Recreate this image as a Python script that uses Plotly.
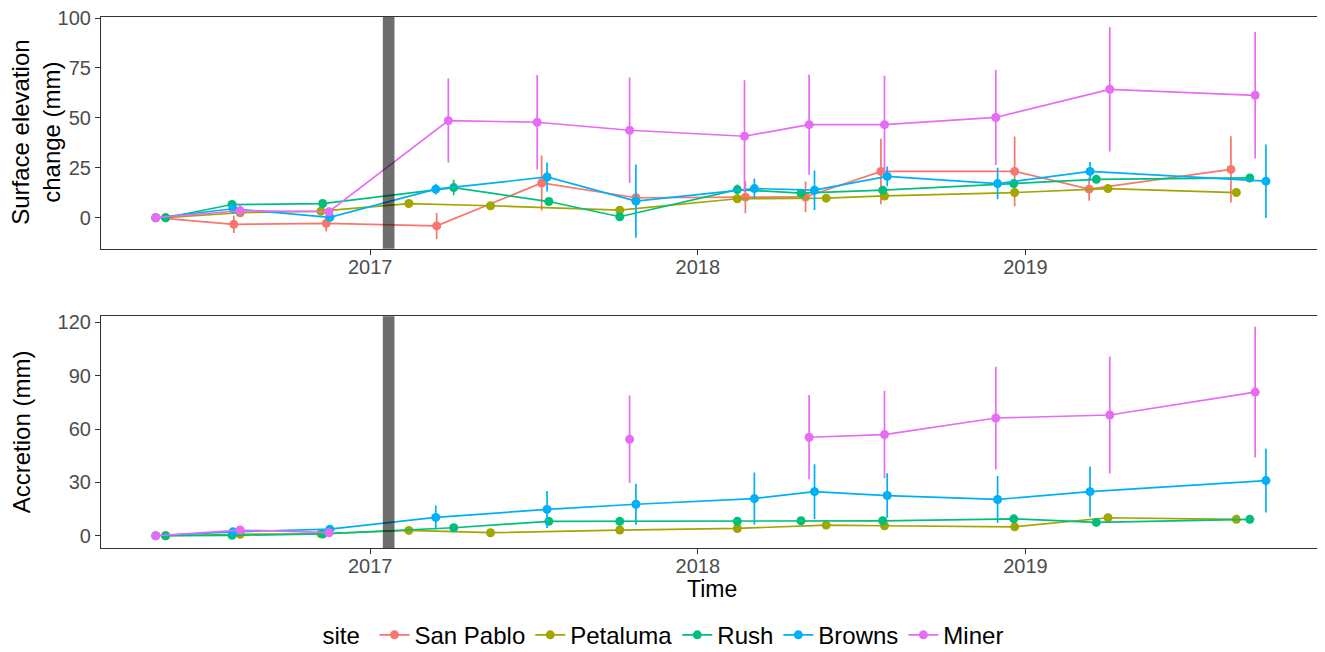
import plotly.graph_objects as go

sites = ["San Pablo", "Petaluma", "Rush", "Browns", "Miner"]
colors = ["#F8766D", "#A3A500", "#00BF7D", "#00B0F6", "#E76BF3"]

dates_san_pablo = ["2016-05-07", "2016-08-02", "2016-11-13", "2017-03-16", "2017-07-11", "2017-10-24",
                   "2018-02-23", "2018-05-01", "2018-07-24", "2018-12-20", "2019-03-13", "2019-08-18"]
dates_petaluma = ["2016-05-18", "2016-08-09", "2016-11-07", "2017-02-13", "2017-05-15", "2017-10-06",
                  "2018-02-14", "2018-05-24", "2018-07-28", "2018-12-20", "2019-04-03", "2019-08-24"]
dates_rush = ["2016-05-18", "2016-07-31", "2016-11-09", "2017-04-04", "2017-07-19", "2017-10-06",
              "2018-02-14", "2018-04-26", "2018-07-26", "2018-12-19", "2019-03-21", "2019-09-08"]
dates_browns = ["2016-05-07", "2016-08-01", "2016-11-17", "2017-03-15", "2017-07-17", "2017-10-24",
                "2018-03-05", "2018-05-11", "2018-07-31", "2018-12-01", "2019-03-14", "2019-09-26"]
dates_miner = ["2016-05-07", "2016-08-09", "2016-11-16", "2017-03-29", "2017-07-06", "2017-10-17",
               "2018-02-22", "2018-05-05", "2018-07-28", "2018-11-29", "2019-04-05", "2019-09-14"]

# Surface elevation change (mm) and error
sec_san_pablo = [0, -3.3, -2.8, -4.1, 17.4, 10.0, 10.3, 10.4, 23.2, 23.2, 14.3, 24.2]
sec_petaluma = [0, 2.5, 3.3, 7.1, 6.0, 3.8, 9.5, 9.8, 10.9, 12.6, 14.6, 12.6]
sec_rush = [0, 6.6, 7.1, 15.1, 8.1, 0.5, 14.1, 12.3, 13.8, 17.1, 19.2, 19.9]
sec_browns = [0, 4.5, 0.2, 14.3, 20.4, 8.3, 14.6, 13.8, 20.7, 17.1, 23.2, 18.3]
sec_miner = [0, 3.5, 3.0, 48.6, 47.8, 43.8, 40.8, 46.6, 46.6, 50.2, 64.3, 61.3]

sec_err_san_pablo = [0.5, 4.4, 4.1, 6.5, 13.8, 2.0, 8.0, 7.7, 16.4, 17.5, 5.8, 16.6]
sec_err_petaluma = [0.5, 1.5, 1.5, 1.5, 1.5, 1.5, 1.5, 1.5, 1.5, 1.5, 1.5, 1.5]
sec_err_rush = [0.5, 1.5, 1.5, 3.9, 1.5, 1.5, 2.5, 1.5, 2.0, 2.0, 1.5, 2.0]
sec_err_browns = [0.5, 1.5, 1.5, 2.7, 7.3, 18.3, 5.0, 9.9, 5.0, 7.9, 4.7, 18.4]
sec_err_miner = [0.5, 3.0, 2.0, 21.1, 23.6, 26.4, 28.0, 25.1, 24.5, 23.8, 31.1, 31.7]

# Accretion (mm) and error
acc_san_pablo = [None] * 12
acc_petaluma = [0, 0.8, 1.1, 3.0, 1.7, 3.2, 4.1, 6.0, 5.6, 5.0, 10.1, 9.2]
acc_rush = [0, 0.2, 1.0, 4.5, 8.1, 8.1, 8.1, 8.4, 8.4, 9.5, 7.5, 9.2]
acc_browns = [0, 2.2, 3.7, 10.3, 14.8, 17.7, 20.9, 24.8, 22.6, 20.4, 24.8, 31.0]
acc_miner = [0, 3.2, 1.7, None, None, 54.2, None, 55.4, 56.9, 66.2, 67.9, 80.8]

acc_err_san_pablo = [None] * 12
acc_err_petaluma = [0.5, 1, 1, 1, 1, 1, 1, 1, 1, 1, 1, 1]
acc_err_rush = [0.5, 1, 1, 1, 1, 1, 1, 1, 1, 1, 1, 1]
acc_err_browns = [0.3, 1, 1, 6.7, 10.4, 11.5, 14.7, 15.4, 12.5, 13.2, 14.1, 17.9]
acc_err_miner = [0.3, 1, 1, None, None, 24.6, None, 23.7, 24.6, 28.9, 32.9, 36.8]

event_start = "2017-01-15"
event_end = "2017-01-28"

dates = [dates_san_pablo, dates_petaluma, dates_rush, dates_browns, dates_miner]
sec = [sec_san_pablo, sec_petaluma, sec_rush, sec_browns, sec_miner]
sec_err = [sec_err_san_pablo, sec_err_petaluma, sec_err_rush, sec_err_browns, sec_err_miner]
acc = [acc_san_pablo, acc_petaluma, acc_rush, acc_browns, acc_miner]
acc_err = [acc_err_san_pablo, acc_err_petaluma, acc_err_rush, acc_err_browns, acc_err_miner]

FONT = "Liberation Sans, Arial, sans-serif"
fig = go.Figure()

for i, s in enumerate(sites):
    c = colors[i]
    fig.add_trace(go.Scatter(
        x=dates[i], y=sec[i], name=s, legendgroup=s, mode="lines+markers",
        line=dict(color=c, width=1.7), marker=dict(color=c, size=9),
        error_y=dict(type="data", array=sec_err[i], color=c, thickness=1.7, width=0),
        xaxis="x", yaxis="y", showlegend=True))
    fig.add_trace(go.Scatter(
        x=dates[i], y=acc[i], name=s, legendgroup=s, mode="lines+markers",
        line=dict(color=c, width=1.7), marker=dict(color=c, size=9),
        error_y=dict(type="data", array=acc_err[i], color=c, thickness=1.7, width=0),
        xaxis="x2", yaxis="y2", showlegend=False))

for xr, yr in [("x", "y domain"), ("x2", "y2 domain")]:
    fig.add_shape(type="rect", xref=xr, yref=yr, x0=event_start, x1=event_end, y0=0, y1=1,
                  fillcolor="rgba(0,0,0,0.57)", line=dict(width=0), layer="above")

xcommon = dict(type="date", range=["2016-03-07", "2019-11-23"], automargin=False,
               tickvals=["2017-01-01", "2018-01-01", "2019-01-01"], ticktext=["2017", "2018", "2019"],
               showgrid=False, zeroline=False, showline=True, mirror=True,
               linecolor="#333333", linewidth=1.2, ticks="outside", ticklen=5,
               tickcolor="#333333", tickwidth=1.2, ticklabeloverflow="allow",
               ticklabelstandoff=-5,
               tickfont=dict(family=FONT, size=20, color="#4D4D4D"))
ycommon = dict(showgrid=False, zeroline=False, showline=True, mirror=True, automargin=False,
               linecolor="#333333", linewidth=1.2, ticks="outside", ticklen=5,
               tickcolor="#333333", tickwidth=1.2, ticklabeloverflow="allow",
               tickfont=dict(family=FONT, size=20, color="#4D4D4D"))

title_font = dict(family=FONT, size=24, color="black")

# The page body adds an 8px offset, so the figure is sized 8px smaller.
fig.update_layout(
    width=1317, height=644,
    margin=dict(l=93, r=7, t=9, b=104),
    paper_bgcolor="white", plot_bgcolor="white",
    font=dict(family=FONT, color="black"),
    xaxis=dict(xcommon, domain=[0, 1], anchor="y"),
    xaxis2=dict(xcommon, domain=[0, 1], anchor="y2"),
    yaxis=dict(ycommon, domain=[0.5637, 1], anchor="x", range=[-15.5, 100.5],
               tickvals=[0, 25, 50, 75, 100]),
    yaxis2=dict(ycommon, domain=[0, 0.4363], anchor="x2", range=[-6.9, 123.4],
                tickvals=[0, 30, 60, 90, 120]),
    legend=dict(orientation="h", xref="paper", x=0.463, xanchor="center",
                yref="container", y=0.026, yanchor="middle",
                itemwidth=30,
                title=dict(text="site ", font=dict(family=FONT, size=24, color="black")),
                font=dict(family=FONT, size=24, color="black"),
                bgcolor="rgba(0,0,0,0)"),
    annotations=[
        dict(text="Surface elevation<br>change (mm)", textangle=-90, showarrow=False,
             xref="paper", yref="paper", x=-0.0534, y=0.7819, xanchor="center", yanchor="middle",
             font=title_font),
        dict(text="Accretion (mm)", textangle=-90, showarrow=False,
             xref="paper", yref="paper", x=-0.0657, y=0.218, xanchor="center", yanchor="middle",
             font=title_font),
        dict(text="Time", showarrow=False,
             xref="paper", yref="paper", x=0.5018, y=-0.0766, xanchor="center", yanchor="middle",
             font=dict(family=FONT, size=23, color="black")),
    ],
)

fig.write_html("out.html")
